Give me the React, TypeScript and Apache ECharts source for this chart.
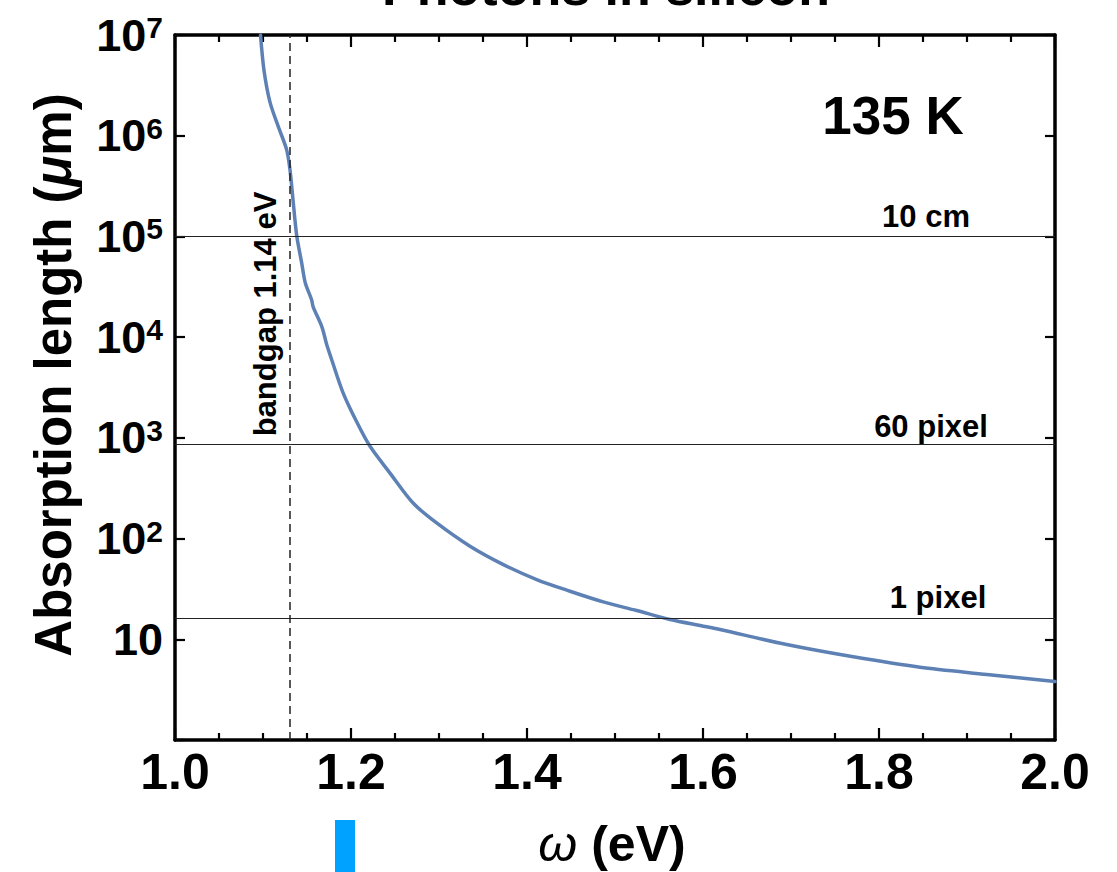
import React, { useEffect, useRef } from "react";
import * as echarts from "echarts";

// photon energy (eV)
const omega = [
  1.0972, 1.1011, 1.108, 1.1174, 1.1269, 1.1307, 1.1337, 1.1383, 1.1439, 1.148,
  1.1553, 1.157, 1.167, 1.1723, 1.178, 1.191, 1.207, 1.2216, 1.2443, 1.2708,
  1.2973, 1.3352, 1.3731, 1.411, 1.4489, 1.4867, 1.5246, 1.5625, 1.6003, 1.6193,
  1.695, 1.7708, 1.8466, 1.9224, 2.0,
];
// absorption length (μm)
const absLength = [
  1.0e7, 4.47e6, 2.14e6, 1.23e6, 7.24e5, 4.57e5, 2.51e5, 1.02e5, 5.5e4, 3.47e4,
  2.34e4, 2.0e4, 1.26e4, 8.5e3, 6.0e3, 2.8e3, 1.41e3, 824, 447, 224,
  143, 84, 55.2, 39.2, 30.0, 23.5, 19.3, 15.7, 13.5, 12.5,
  8.87, 6.7, 5.28, 4.48, 3.8,
];
// reference lengths (μm)
const refLines = [
  { name: "10 cm", value: 100000 },
  { name: "60 pixel", value: 860 },
  { name: "1 pixel", value: 16 },
];
const bandgapEV = 1.1326;
const xTicks = { min: 1.0, max: 2.0, interval: 0.2 };
const yRange = { min: 1, max: 1e7 };

const FONT = "'Liberation Sans', Arial, Helvetica, sans-serif";

export default function App() {
  const ref = useRef<HTMLDivElement>(null);
  useEffect(() => {
    if (!ref.current) return;
    const chart = echarts.init(ref.current, null, { renderer: "svg" });
    const mkAxisLine = () => ({ show: true, onZero: false, lineStyle: { color: "#000", width: 3.5 } });
    const xBase = () => ({
      type: "value" as const,
      min: xTicks.min,
      max: xTicks.max,
      interval: xTicks.interval,
      axisLine: mkAxisLine(),
      axisTick: { show: true, inside: true, length: 12, lineStyle: { color: "#000", width: 2.2 } },
      minorTick: { show: true, splitNumber: 4, length: 7, lineStyle: { color: "#000", width: 2.2 } },
      splitLine: { show: false },
      minorSplitLine: { show: false },
    });
    const yBase = () => ({
      type: "log" as const,
      logBase: 10,
      min: yRange.min,
      max: yRange.max,
      axisLine: mkAxisLine(),
      axisTick: { show: true, inside: true, length: 10, lineStyle: { color: "#000", width: 2.2 } },
      splitLine: { show: false },
      minorTick: { show: false },
    });
    const labelText = (name: string, x: number, y: number) => ({
      type: "text",
      x,
      y,
      style: {
        text: name,
        font: `bold 31px ${FONT}`,
        fill: "#000",
        align: "center",
        verticalAlign: "middle",
      },
    });
    chart.setOption({
      animation: false,
      grid: { left: 175, right: 62, top: 35, bottom: 132, containLabel: false, outerBoundsMode: "none" },
      xAxis: [
        {
          ...xBase(),
          position: "bottom",
          axisLabel: {
            formatter: (v: number) => v.toFixed(1),
            fontSize: 50,
            fontWeight: "bold",
            fontFamily: FONT,
            color: "#000",
            margin: 7,
            showMinLabel: true,
            showMaxLabel: true,
          },
        },
        { ...xBase(), position: "top", axisLabel: { show: false } },
      ],
      yAxis: [
        {
          ...yBase(),
          position: "left",
          axisLabel: {
            margin: 12,
            color: "#000",
            fontFamily: FONT,
            fontWeight: "bold",
            fontSize: 45,
            showMinLabel: true,
            showMaxLabel: true,
            formatter: (v: number) => {
              const e = Math.round(Math.log10(v));
              if (e === 0) return "";
              if (e === 1) return "{b|10}";
              return `{b|10}{s|${e}}`;
            },
            rich: {
              b: { fontSize: 45, fontWeight: "bold", fontFamily: FONT, color: "#000", lineHeight: 45 },
              s: {
                fontSize: 30,
                fontWeight: "bold",
                fontFamily: FONT,
                color: "#000",
                lineHeight: 14,
                verticalAlign: "top",
              },
            },
          },
        },
        { ...yBase(), position: "right", axisLabel: { show: false } },
      ],
      series: [
        {
          type: "line",
          data: omega.map((x, i) => [x, absLength[i]]),
          showSymbol: false,
          symbol: "none",
          smooth: 0.3,
          clip: true,
          lineStyle: { color: "#5E81B5", width: 3.5, join: "round", cap: "round" },
          z: 3,
          markLine: {
            silent: true,
            symbol: ["none", "none"],
            label: { show: false },
            animation: false,
            data: [
              ...refLines.map((r) => ({
                yAxis: r.value,
                lineStyle: { color: "#222", width: 1.2, type: "solid" },
              })),
              {
                xAxis: bandgapEV,
                lineStyle: { color: "#222", width: 1.5, type: [8, 5] },
              },
            ],
          },
        },
      ],
      graphic: [
        {
          type: "text",
          x: 606,
          y: -13,
          style: {
            text: "Photons in silicon",
            font: `bold 52px ${FONT}`,
            fill: "#000",
            align: "center",
            verticalAlign: "middle",
          },
        },
        {
          type: "text",
          x: 893,
          y: 115,
          style: {
            text: "135 K",
            font: `bold 53px ${FONT}`,
            fill: "#000",
            align: "center",
            verticalAlign: "middle",
          },
        },
        labelText(refLines[0].name, 926, 216),
        labelText(refLines[1].name, 931, 426),
        labelText(refLines[2].name, 938, 597),
        {
          type: "text",
          x: 265,
          y: 314,
          rotation: Math.PI / 2,
          style: {
            text: "bandgap 1.14 eV",
            font: `bold 31px ${FONT}`,
            fill: "#000",
            align: "center",
            verticalAlign: "middle",
          },
        },
        {
          type: "text",
          x: 53,
          y: 375,
          rotation: Math.PI / 2,
          style: {
            text: "Absorption length ({i|μ}m)",
            font: `bold 51px ${FONT}`,
            fill: "#000",
            align: "center",
            verticalAlign: "middle",
            rich: {
              i: { fontSize: 51, fontWeight: "bold", fontStyle: "italic", fontFamily: FONT, fill: "#000" },
            },
          },
        },
        {
          type: "text",
          x: 612,
          y: 844,
          style: {
            text: "{w|ω} (eV)",
            font: `bold 50px ${FONT}`,
            fill: "#000",
            align: "center",
            verticalAlign: "middle",
            rich: {
              w: { fontSize: 50, fontWeight: "normal", fontStyle: "italic", fontFamily: FONT, fill: "#000" },
            },
          },
        },
        {
          type: "rect",
          shape: { x: 335, y: 820, width: 20, height: 52 },
          style: { fill: "#00A2FF" },
        },
      ],
    });
    return () => chart.dispose();
  }, []);
  return (
    <div
      ref={ref}
      style={{ position: "absolute", left: 0, top: 0, width: 1117, height: 872, background: "#fff" }}
    />
  );
}
